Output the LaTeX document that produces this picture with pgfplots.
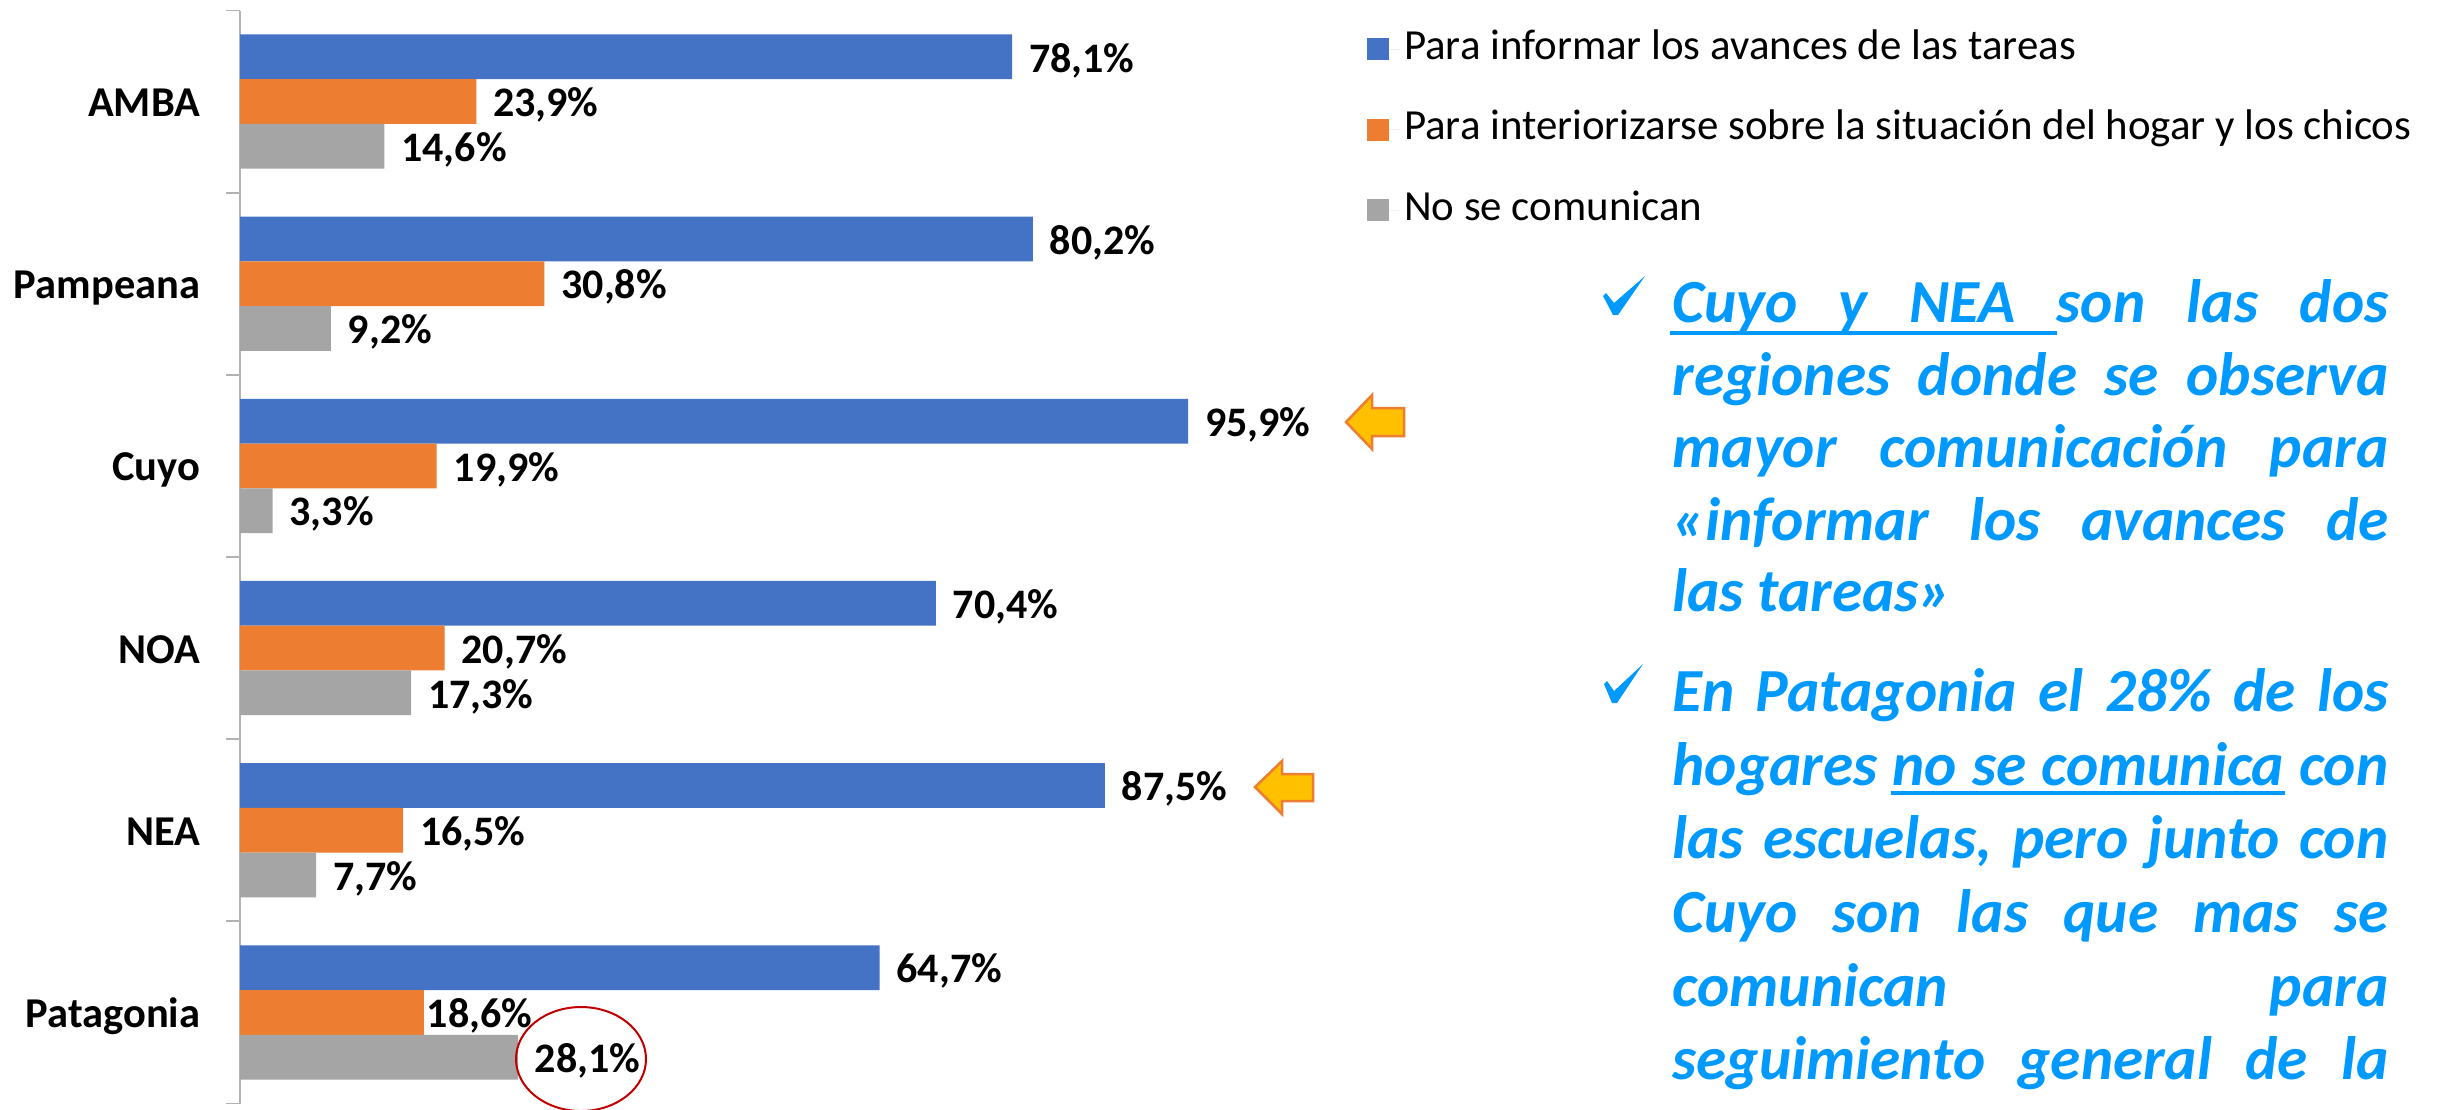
\documentclass[border=0pt]{standalone}
\usepackage{fontspec}
\setmainfont{Carlito}
\usepackage{pgfplots}
\pgfplotsset{compat=1.18}
\definecolor{cblue}{HTML}{4472C4}
\definecolor{corange}{HTML}{ED7D31}
\definecolor{cgray}{HTML}{A5A5A5}
\definecolor{ctxt}{HTML}{0099FF}
\definecolor{cgold}{HTML}{FFC000}
\definecolor{cred}{HTML}{C00000}
\newcommand{\jline}[2]{\node[anchor=base west,inner sep=0pt,text=ctxt,font=\fontsize{24.5}{28}\selectfont\bfseries\itshape] at (1672,#1) {\makebox[286.4pt][s]{#2}};}
\newcommand{\nline}[2]{\node[anchor=base west,inner sep=0pt,text=ctxt,font=\fontsize{24.5}{28}\selectfont\bfseries\itshape] at (1672,#1) {#2};}
\begin{document}
\begin{tikzpicture}[x=0.4pt,y=-0.4pt]
\useasboundingbox (0,0) rectangle (2438,1109);
\begin{axis}[
  at={(96pt,-4.2pt)}, anchor=north west,
  scale only axis, width=395.4pt, height=437.2pt,
  xbar, y dir=reverse,
  xmin=0, xmax=100, ymin=-0.5, ymax=5.5,
  axis y line=left, axis x line=none,
  y axis line style={-, draw=black!30, line width=0.7pt},
  ytick={0,1,2,3,4,5},
  yticklabels={AMBA,Pampeana,Cuyo,NOA,NEA,Patagonia},
  major tick length=0pt,
  yticklabel style={font=\fontsize{17}{20}\selectfont\bfseries, xshift=-12.4pt, yshift=-0.5pt, text height=11pt, text depth=0pt},
  extra y ticks={-0.5,0.5,1.5,2.5,3.5,4.5,5.5},
  extra y tick labels={},
  extra tick style={major tick length=5.6pt, tick align=outside, tick style={draw=black!30, line width=0.7pt}},
  bar width=17.9pt,
  point meta=x,
  nodes near coords={\pgfmathprintnumber{\pgfplotspointmeta}\%},
  nodes near coords style={font=\fontsize{16.8}{20}\selectfont\bfseries, anchor=west, text=black, inner xsep=0pt, xshift=6.6pt, yshift=-1.4pt},
  /pgf/number format/.cd, use comma, fixed, fixed zerofill, precision=1, assume math mode=true, /pgfplots/.cd,
  clip=false,
  legend image code/.code={\fill[#1] (0pt,-4.4pt) rectangle (8.8pt,4.4pt);\path (0pt,0pt) -- (13.2pt,0pt);},
  legend cell align=left,
  legend style={at={(1.14,0.981)}, anchor=north west, draw=none, fill=none,
    font=\fontsize{17.15}{20}\selectfont, inner sep=0pt,
    nodes={inner ysep=0pt, inner xsep=1.5pt, text height=11pt, text depth=3pt},
    /tikz/row sep=18.2pt},
]
\addplot[fill=cblue, draw=none, bar shift=17.9pt] coordinates {(78.1,0) (80.2,1) (95.9,2) (70.4,3) (87.5,4) (64.7,5)};
\addlegendentry{Para informar los avances de las tareas}
\addplot[fill=corange, draw=none, bar shift=0pt,
  coordinate style/.condition={\coordindex==5}{xshift=-5.6pt}] coordinates {(23.9,0) (30.8,1) (19.9,2) (20.7,3) (16.5,4) (18.6,5)};
\addlegendentry{Para interiorizarse sobre la situación del hogar y los chicos}
\addplot[fill=cgray, draw=none, bar shift=-17.9pt] coordinates {(14.6,0) (9.2,1) (3.3,2) (17.3,3) (7.7,4) (28.1,5)};
\addlegendentry{No se comunican}
\end{axis}
% arrows
\filldraw[fill=cgold,draw=corange,line width=1pt,line join=miter] (1346,422)--(1372,395)--(1372,408)--(1404,408)--(1404,436)--(1372,436)--(1372,449)--cycle;
\filldraw[fill=cgold,draw=corange,line width=1pt,line join=miter] (1255,787)--(1282,761)--(1282,774)--(1313,774)--(1313,801)--(1282,801)--(1282,814)--cycle;
% circle
\draw[cred,line width=0.8pt] (581,1059) ellipse [x radius=65, y radius=52];
% checks
\fill[ctxt] (1603,296)--(1606,293)--(1614,303)--(1645,276)--(1618,315)--(1613,315)--cycle;
\fill[ctxt] (1604,684)--(1607,681)--(1614,691)--(1643,664)--(1617,703)--(1612,703)--cycle;
% text
\jline{322}{Cuyo y NEA son las dos}
\jline{395}{regiones donde se observa}
\jline{467}{mayor comunicación para}
\jline{540}{«informar los avances de}
\nline{611}{las tareas»}
\jline{711}{En Patagonia el 28\% de los}
\jline{785}{hogares no se comunica con}
\jline{858}{las escuelas, pero junto con}
\jline{932}{Cuyo son las que mas se}
\jline{1006}{comunican para}
\jline{1079}{seguimiento general de la}
\draw[ctxt,line width=1.4pt] (1670,333)--(2057,333);
\draw[ctxt,line width=1.4pt] (1891,793)--(2285,793);
\end{tikzpicture}
\end{document}
